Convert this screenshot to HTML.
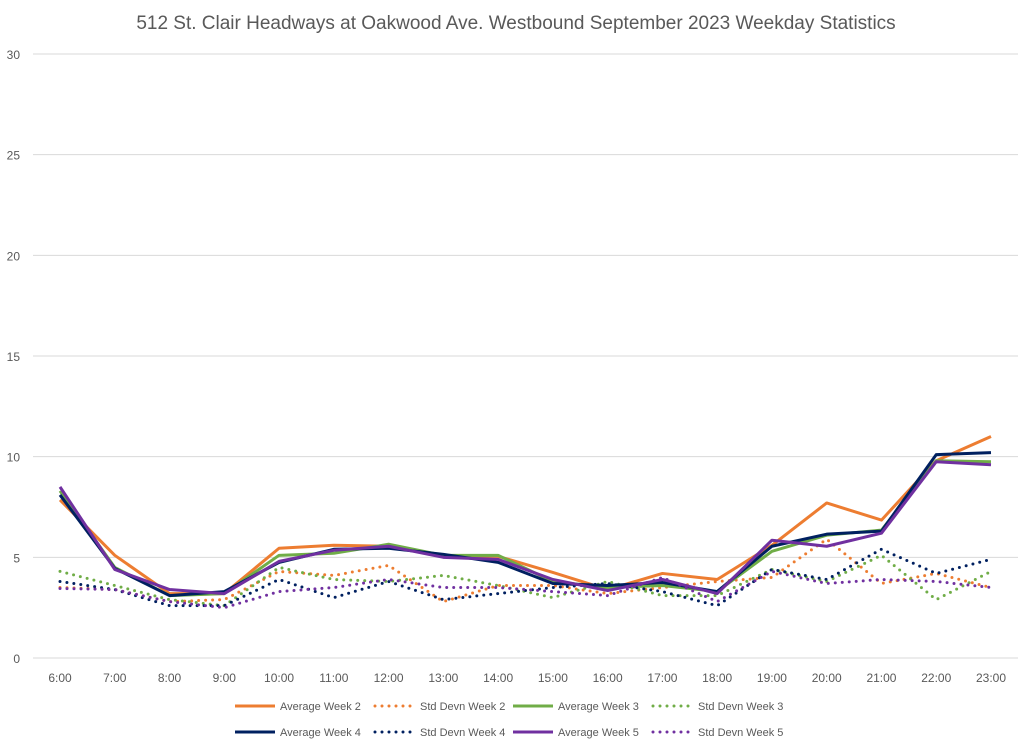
<!DOCTYPE html>
<html><head><meta charset="utf-8"><style>
body{margin:0;background:#fff;font-family:"Liberation Sans",sans-serif}
svg text{font-family:"Liberation Sans",sans-serif}
</style></head><body>
<svg id="chart" width="1024" height="745">
<text x="516" y="29" text-anchor="middle" font-size="19" fill="#595959">512 St. Clair Headways at Oakwood Ave. Westbound September 2023 Weekday Statistics</text>
<g id="grid"></g><g id="series"></g><g id="legend"></g>
</svg>
<script>
const categories=["6:00","7:00","8:00","9:00","10:00","11:00","12:00","13:00","14:00","15:00","16:00","17:00","18:00","19:00","20:00","21:00","22:00","23:00"];
const yTicks=[0,5,10,15,20,25,30];
const avgW2=[7.85,5.1,3.2,3.2,5.45,5.6,5.55,5.1,5.05,4.25,3.4,4.2,3.9,5.6,7.7,6.85,9.8,11.0];
const sdW2=[3.5,3.4,2.8,2.9,4.3,4.1,4.6,2.8,3.6,3.6,3.2,3.5,3.8,4.0,5.9,3.7,4.2,3.5];
const avgW3=[8.3,4.5,3.1,3.2,5.1,5.2,5.65,5.1,5.1,3.8,3.5,3.6,3.3,5.3,6.1,6.35,9.8,9.75];
const sdW3=[4.3,3.6,2.9,2.6,4.5,3.9,3.8,4.1,3.6,3.0,3.8,3.1,3.1,4.4,3.8,5.1,2.9,4.3];
const avgW4=[8.1,4.45,3.1,3.3,4.75,5.4,5.45,5.15,4.75,3.7,3.6,3.75,3.3,5.55,6.15,6.3,10.1,10.2];
const sdW4=[3.8,3.4,2.6,2.6,3.9,3.0,3.8,2.9,3.2,3.5,3.7,3.3,2.6,4.4,3.9,5.4,4.2,4.9];
const avgW5=[8.5,4.4,3.4,3.2,4.8,5.35,5.55,5.0,4.9,3.9,3.35,3.9,3.2,5.85,5.55,6.2,9.75,9.6];
const sdW5=[3.45,3.4,2.8,2.5,3.3,3.5,3.9,3.5,3.5,3.3,3.1,4.0,2.8,4.3,3.7,3.9,3.8,3.5];
const NS="http://www.w3.org/2000/svg";
const X=i=>60+i*(931/17);
const Y=v=>658-v*(604/30);
function mk(t,a,p){const e=document.createElementNS(NS,t);for(const k in a)e.setAttribute(k,a[k]);p.appendChild(e);return e;}
const grid=document.getElementById('grid');
yTicks.forEach(v=>{
 const l=mk('line',{x1:33,x2:1018,y1:Y(v),y2:Y(v),stroke:'#d9d9d9','stroke-width':1},grid);
 
 
 const t=mk('text',{x:20,y:Y(v)+5,'text-anchor':'end','font-size':12,fill:'#595959'},grid);t.textContent=v;
 
 
});
categories.forEach((c,i)=>{
 const t=mk('text',{x:X(i),y:682,'text-anchor':'middle','font-size':12,fill:'#595959'},grid);t.textContent=c;
 
 
});
const series=[
 {n:"Average Week 2",d:avgW2,c:"#ed7d31",dot:false},
 {n:"Std Devn Week 2",d:sdW2,c:"#ed7d31",dot:true},
 {n:"Average Week 3",d:avgW3,c:"#70ad47",dot:false},
 {n:"Std Devn Week 3",d:sdW3,c:"#70ad47",dot:true},
 {n:"Average Week 4",d:avgW4,c:"#002060",dot:false},
 {n:"Std Devn Week 4",d:sdW4,c:"#002060",dot:true},
 {n:"Average Week 5",d:avgW5,c:"#7030a0",dot:false},
 {n:"Std Devn Week 5",d:sdW5,c:"#7030a0",dot:true}];
const sg=document.getElementById('series'),lg=document.getElementById('legend');
const lx=[235,375,513,653];
series.forEach((s,k)=>{
 const a={fill:'none',stroke:s.c,'stroke-width':3,'stroke-linejoin':'round'};
 if(s.dot){a['stroke-dasharray']='0 7';a['stroke-linecap']='round';}
 a.points=s.d.map((v,i)=>X(i)+','+Y(v)).join(' ');
 const p=mk('polyline',a,sg);
 
 
 const x=lx[k%4],y=k<4?706:732;
 const la=Object.assign({},a);delete la.points;la.x1=x;la.x2=x+40;la.y1=y;la.y2=y;
 const l=mk('line',la,lg);
 
 
 const t=mk('text',{x:x+45,y:y+4,'font-size':11,fill:'#595959'},lg);t.textContent=s.n;
 
 
});
</script>
</body></html>
